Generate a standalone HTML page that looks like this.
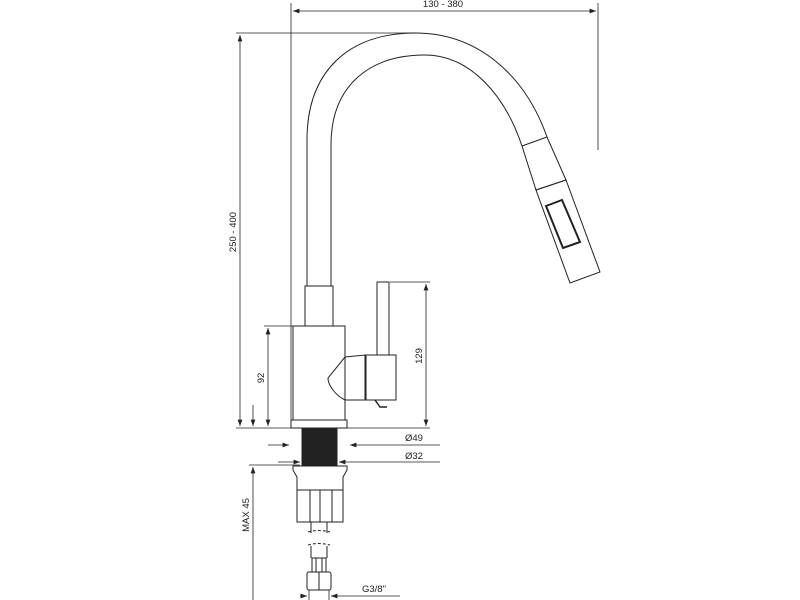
<!DOCTYPE html>
<html><head><style>body{margin:0;background:#fff}svg{display:block}</style></head><body>
<svg width="800" height="600" viewBox="0 0 800 600" xmlns="http://www.w3.org/2000/svg" font-family="Liberation Sans, sans-serif" font-size="10" fill="none" stroke="#222" stroke-width="1">
<defs><marker id="a" markerWidth="8" markerHeight="6" refX="8" refY="3" orient="auto-start-reverse"><path d="M0,0 L8,3 L0,6z" fill="#222" stroke="none"/></marker></defs>
<!-- top dim -->
<line x1="291" y1="3" x2="291" y2="420" stroke-width="0.8"/>
<line x1="598" y1="3" x2="598" y2="150" stroke-width="0.8"/>
<line x1="293" y1="11" x2="596" y2="11" marker-start="url(#a)" marker-end="url(#a)" stroke-width="0.8"/>
<text x="443" y="7" fill="#222" stroke="none" text-anchor="middle" font-size="9.5">130 - 380</text>
<!-- height dim -->
<line x1="236" y1="33" x2="415" y2="33" stroke-width="0.8"/>
<line x1="240" y1="35" x2="240" y2="426" marker-start="url(#a)" marker-end="url(#a)" stroke-width="0.8"/>
<line x1="236" y1="428" x2="291" y2="428" stroke-width="0.8"/>
<text transform="translate(236,232) rotate(-90)" fill="#222" stroke="none" text-anchor="middle" font-size="9.5">250 - 400</text>
<!-- spout -->
<path d="M307,286 L307,140 C307,70 350,33 415,33 C478,33 525,75 547,137"/>
<path d="M331,286 L331,145 C331,85 370,55 425,55 C470,55 505,95 522,146"/>
<path d="M522,146 L547,137 L566,180 L536,190 Z"/>
<path d="M536,190 L566,180 L600,272 L570,283 Z"/>
<path d="M546,206 L562,200 L580,242 L563,248 Z" stroke-width="2"/>
<!-- body -->
<rect x="305" y="286" width="28" height="40"/>
<rect x="293" y="326" width="52" height="94"/>
<rect x="291" y="420" width="56" height="8"/>
<rect x="302" y="428" width="35" height="37" fill="#222"/>
<!-- handle -->
<rect x="377" y="282" width="12" height="73"/>
<path d="M345,357 L365,355 L365,400 L345,400 C335,395 328,385 328,378 Z"/>
<rect x="366" y="355" width="30" height="45"/>
<path d="M375,400 L380,407 L387,407" stroke-width="1.5"/>
<!-- 129 dim -->
<line x1="390" y1="282" x2="430" y2="282" stroke-width="0.8"/>
<line x1="426" y1="284" x2="426" y2="426" marker-start="url(#a)" marker-end="url(#a)" stroke-width="0.8"/>
<line x1="347" y1="428" x2="430" y2="428" stroke-width="0.8"/>
<text transform="translate(422,356) rotate(-90)" fill="#222" stroke="none" text-anchor="middle" font-size="9.5">129</text>
<!-- 92 dim -->
<line x1="264" y1="326" x2="293" y2="326" stroke-width="0.8"/>
<line x1="268" y1="328" x2="268" y2="426" marker-start="url(#a)" marker-end="url(#a)" stroke-width="0.8"/>
<text transform="translate(264,378) rotate(-90)" fill="#222" stroke="none" text-anchor="middle" font-size="9.5">92</text>
<!-- Ø49 / Ø32 -->
<line x1="268" y1="445" x2="289" y2="445" marker-end="url(#a)" stroke-width="0.8"/>
<line x1="350" y1="445" x2="440" y2="445" marker-start="url(#a)" stroke-width="0.8"/>
<text x="405" y="441" fill="#222" stroke="none" font-size="9.5">Ø49</text>
<line x1="278" y1="462" x2="300" y2="462" marker-end="url(#a)" stroke-width="0.8"/>
<line x1="339" y1="462" x2="440" y2="462" marker-start="url(#a)" stroke-width="0.8"/>
<text x="405" y="459" fill="#222" stroke="none" font-size="9.5">Ø32</text>
<!-- MAX 45 -->
<line x1="253" y1="405" x2="253" y2="426" marker-end="url(#a)" stroke-width="0.8"/>
<line x1="253" y1="467" x2="253" y2="600" marker-start="url(#a)" stroke-width="0.8"/>
<line x1="249" y1="465" x2="300" y2="465" stroke-width="0.8"/>
<text transform="translate(249,515) rotate(-90)" fill="#222" stroke="none" text-anchor="middle" font-size="9.5">MAX 45</text>
<!-- lower fitting -->
<path d="M293,466 L347,466 L347,470 L343,477 L343,490 L297,490 L297,477 L293,470 Z"/>
<rect x="297" y="490" width="46" height="32"/>
<line x1="310" y1="490" x2="310" y2="522"/><line x1="320" y1="490" x2="320" y2="522"/><line x1="332" y1="490" x2="332" y2="522"/>
<line x1="311" y1="522" x2="311" y2="533"/><line x1="327" y1="522" x2="327" y2="533"/>
<path d="M308,532 Q318,529 330,532" stroke-dasharray="3,2"/>
<path d="M308,545 Q318,542 330,545" stroke-dasharray="3,2"/>
<line x1="311" y1="546" x2="311" y2="558"/><line x1="327" y1="546" x2="327" y2="558"/>
<rect x="312" y="558" width="14" height="14"/>
<line x1="316" y1="558" x2="316" y2="572"/><line x1="322" y1="558" x2="322" y2="572"/>
<rect x="307" y="572" width="24" height="18" rx="2"/>
<line x1="319" y1="572" x2="319" y2="590"/>
<line x1="309" y1="590" x2="309" y2="600" stroke-width="0.8"/><line x1="329" y1="590" x2="329" y2="600" stroke-width="0.8"/>
<line x1="300" y1="596" x2="307" y2="596" marker-end="url(#a)" stroke-width="0.8"/>
<line x1="331" y1="596" x2="400" y2="596" marker-start="url(#a)" stroke-width="0.8"/>
<text x="362" y="592" fill="#222" stroke="none" font-size="9.5">G3/8"</text>
</svg>
</body></html>
